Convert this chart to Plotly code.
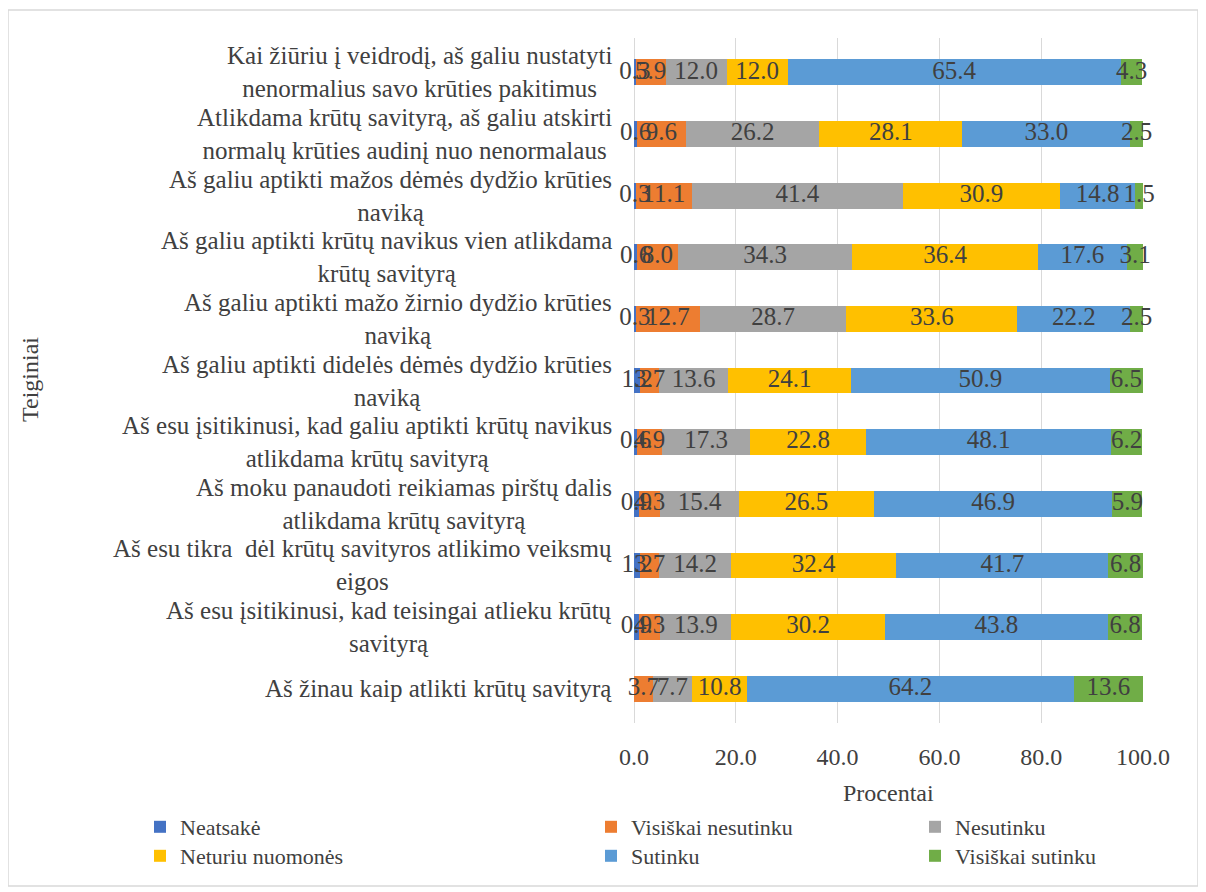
import plotly.graph_objects as go

categories = [
    "Kai žiūriu į veidrodį, aš galiu nustatyti<br>nenormalius savo krūties pakitimus",
    "Atlikdama krūtų savityrą, aš galiu atskirti<br>normalų krūties audinį nuo nenormalaus",
    "Aš galiu aptikti mažos dėmės dydžio krūties<br>naviką",
    "Aš galiu aptikti krūtų navikus vien atlikdama<br>krūtų savityrą",
    "Aš galiu aptikti mažo žirnio dydžio krūties<br>naviką",
    "Aš galiu aptikti didelės dėmės dydžio krūties<br>naviką",
    "Aš esu įsitikinusi, kad galiu aptikti krūtų navikus<br>atlikdama krūtų savityrą",
    "Aš moku panaudoti reikiamas pirštų dalis<br>atlikdama krūtų savityrą",
    "Aš esu tikra  dėl krūtų savityros atlikimo veiksmų<br>eigos",
    "Aš esu įsitikinusi, kad teisingai atlieku krūtų<br>savityrą",
    "Aš žinau kaip atlikti krūtų savityrą",
]

series_names = ["Neatsakė", "Visiškai nesutinku", "Nesutinku",
                "Neturiu nuomonės", "Sutinku", "Visiškai sutinku"]

neatsake = [0.3, 0.6, 0.3, 0.6, 0.3, 1.2, 0.6, 0.9, 1.2, 0.9, None]
visiskai_nesutinku = [5.9, 9.6, 11.1, 8.0, 12.7, 3.7, 4.9, 4.3, 3.7, 4.3, 3.7]
nesutinku = [12.0, 26.2, 41.4, 34.3, 28.7, 13.6, 17.3, 15.4, 14.2, 13.9, 7.7]
neturiu_nuomones = [12.0, 28.1, 30.9, 36.4, 33.6, 24.1, 22.8, 26.5, 32.4, 30.2, 10.8]
sutinku = [65.4, 33.0, 14.8, 17.6, 22.2, 50.9, 48.1, 46.9, 41.7, 43.8, 64.2]
visiskai_sutinku = [4.3, 2.5, 1.5, 3.1, 2.5, 6.5, 6.2, 5.9, 6.8, 6.8, 13.6]

x_ticks = [0, 20, 40, 60, 80, 100]

series_values = [neatsake, visiskai_nesutinku, nesutinku,
                 neturiu_nuomones, sutinku, visiskai_sutinku]
colors = ["#4472C4", "#ED7D31", "#A5A5A5", "#FFC000", "#5B9BD5", "#70AD47"]

FONT = "Liberation Serif"
TXT = "#404040"

fig = go.Figure()
legend_ids = ["legend", "legend2", "legend3", "legend4", "legend5", "legend6"]
for name, vals, col, lg in zip(series_names, series_values, colors, legend_ids):
    fig.add_trace(go.Bar(
        y=categories, x=vals, name=name, orientation="h",
        marker=dict(color=col, line=dict(width=0)),
        legend=lg,
    ))

# data labels drawn above all bars (like the original), centred on segments
starts = [0.0] * len(categories)
for vals in series_values:
    xs, ys, ts = [], [], []
    for i, v in enumerate(vals):
        if v is None:
            continue
        xs.append(starts[i] + v / 2)
        ys.append(categories[i])
        ts.append(f"{v:.1f}")
        starts[i] += v
    fig.add_trace(go.Scatter(
        x=xs, y=ys, text=ts, mode="text", showlegend=False,
        textposition="middle center", cliponaxis=False, hoverinfo="skip",
        textfont=dict(family=FONT, size=25, color=TXT),
    ))

OFF = 8  # page offset of the figure
L, R, T, B = 626, 71, 30, 177
W, H = 1206, 892
pw, ph = W - L - R, H - T - B

def px_x(p):
    return (p - OFF - L) / pw

def px_y(p):
    return (H - B - (p - OFF)) / ph

legend_pos = [(140, 827), (591, 827), (915, 827),
              (140, 856), (591, 856), (915, 856)]

annotations = []
for c in categories:
    annotations.append(dict(
        x=0, y=c, xref="x", yref="y", text=c, showarrow=False,
        xanchor="right", yanchor="middle", align="center", xshift=-20,
        font=dict(family=FONT, size=25, color=TXT),
    ))
annotations.append(dict(
    x=px_x(30), y=px_y(380), xref="paper", yref="paper", text="Teiginiai",
    showarrow=False, textangle=-90, xanchor="center", yanchor="middle",
    font=dict(family=FONT, size=24, color=TXT),
))
annotations.append(dict(
    x=px_x(888), y=px_y(793), xref="paper", yref="paper", text="Procentai",
    showarrow=False, xanchor="center", yanchor="middle",
    font=dict(family=FONT, size=24, color=TXT),
))

fig.update_layout(
    template="none",
    width=W, height=H,
    margin=dict(l=L, r=R, t=T, b=B),
    barmode="stack", bargap=0.58,
    paper_bgcolor="white", plot_bgcolor="white",
    font=dict(family=FONT, size=22, color=TXT),
    showlegend=True,
    annotations=annotations,
    shapes=[dict(type="rect", xref="paper", yref="paper",
                 x0=px_x(8), x1=px_x(1198), y0=px_y(886), y1=px_y(10),
                 line=dict(color="#D9D9D9", width=1.5), layer="below")],
)
for lg, (lx, ly) in zip(legend_ids, legend_pos):
    fig.layout[lg] = dict(
        x=px_x(lx), y=px_y(ly), xanchor="left", yanchor="middle",
        orientation="v", bgcolor="rgba(0,0,0,0)", borderwidth=0,
        font=dict(family=FONT, size=22, color=TXT),
    )

fig.update_xaxes(
    range=[0, 100], tickvals=x_ticks, tickformat=".1f",
    showgrid=True, gridcolor="#D9D9D9", gridwidth=1,
    zeroline=True, zerolinecolor="#D9D9D9", zerolinewidth=1,
    showline=False, ticks="", ticklabelstandoff=17,
    tickfont=dict(family=FONT, size=24, color=TXT),
)
fig.update_yaxes(
    autorange="reversed", showticklabels=False, showgrid=False,
    zeroline=False, showline=False, ticks="",
)

fig.write_html("out.html")
